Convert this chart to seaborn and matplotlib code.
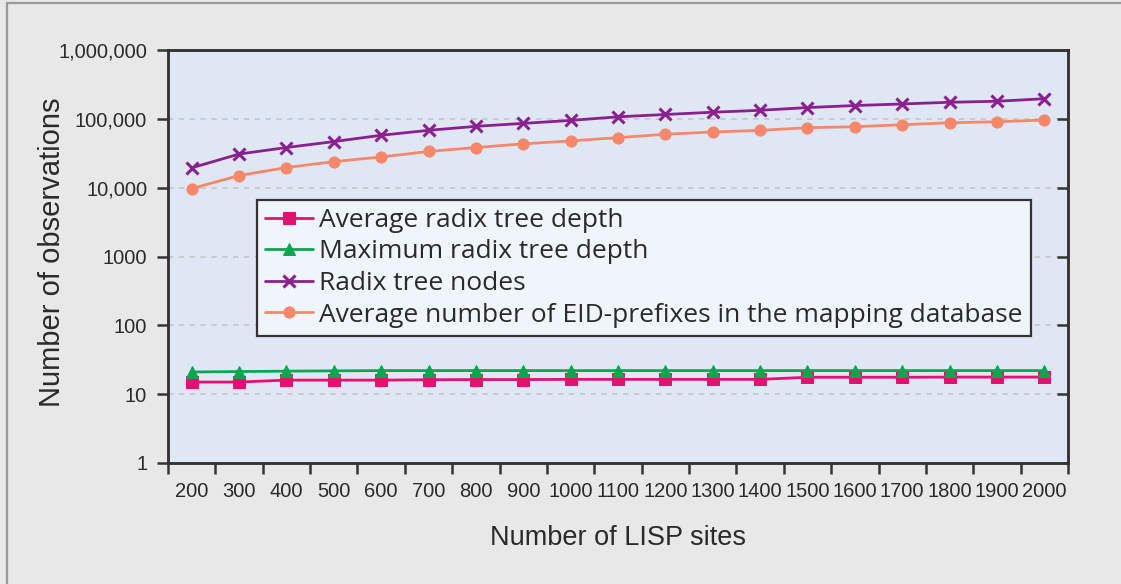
import matplotlib
matplotlib.use("Agg")
import matplotlib.pyplot as plt
from matplotlib import font_manager
from matplotlib.patches import Rectangle
from matplotlib.ticker import FixedLocator, FixedFormatter, NullLocator, NullFormatter
import seaborn as sns
import numpy as np

# ---- data ----
sites = [200, 300, 400, 500, 600, 700, 800, 900, 1000, 1100,
         1200, 1300, 1400, 1500, 1600, 1700, 1800, 1900, 2000]
avg_depth = [15, 15, 16, 16, 16, 16.2, 16.3, 16.3, 16.4, 16.4,
             16.4, 16.4, 16.4, 17.6, 17.6, 17.6, 17.7, 17.7, 17.7]
max_depth = [21, 21.3, 21.6, 21.8, 22, 22, 22, 22, 22, 22,
             22, 22, 22, 22, 22, 22, 22, 22, 22]
radix_nodes = [19400, 30800, 38300, 46700, 57700, 68100, 77800, 85900, 94900, 107000,
               115600, 124800, 133000, 145800, 156000, 164500, 174000, 180000, 196000]
eid_prefixes = [9700, 15000, 19600, 23900, 27900, 33600, 38300, 43300, 47800, 53300,
                59700, 64400, 68000, 74300, 76800, 82000, 87700, 90600, 96000]
series_names = ["Average radix tree depth", "Maximum radix tree depth",
                "Radix tree nodes", "Average number of EID-prefixes in the mapping database"]
ytick_values = [1, 10, 100, 1000, 10000, 100000, 1000000]
ytick_labels = ["1", "10", "100", "1000", "10,000", "100,000", "1,000,000"]
xlabel = "Number of LISP sites"
ylabel = "Number of observations"

sns.set_theme(style="white")

available = {f.name for f in font_manager.fontManager.ttflist}
label_font = "Liberation Sans"
legend_font = "Open Sans" if "Open Sans" in available else "DejaVu Sans"
plt.rcParams["font.family"] = [label_font, "DejaVu Sans"]

fig = plt.figure(figsize=(11.21, 5.84), dpi=100, facecolor="#e8e8e8")
fig.patches.append(Rectangle((7 / 1121, -0.1), 2.0, 1.1 - 3 / 584,
                             transform=fig.transFigure, facecolor="none",
                             edgecolor="#9a9a9a", lw=1.6, zorder=0))
ax = fig.add_axes([168 / 1121, 1 - 463 / 584, 900 / 1121, 413 / 584])
ax.set_facecolor("#dfe7f5")

pos = np.arange(len(sites))
styles = [
    dict(color="#e5106f", marker="s", markersize=8, markeredgecolor="#e5106f"),
    dict(color="#0ba650", marker="^", markersize=8, markeredgecolor="#0ba650"),
    dict(color="#8a1f8e", marker="x", markersize=9, markeredgewidth=2.2,
         markeredgecolor="#8a1f8e"),
    dict(color="#f7876a", marker="o", markersize=8, markeredgecolor="#f7876a"),
]
for vals, name, st in zip([avg_depth, max_depth, radix_nodes, eid_prefixes], series_names, styles):
    sns.lineplot(x=pos, y=vals, ax=ax, label=name, linewidth=2, **st)

ax.set_yscale("log")
ax.set_ylim(1, 1000000)
ax.set_xlim(-0.5, len(sites) - 0.5)

ax.yaxis.set_major_locator(FixedLocator(ytick_values))
ax.yaxis.set_major_formatter(FixedFormatter(ytick_labels))
ax.yaxis.set_minor_locator(NullLocator())
ax.grid(False)
for v in ytick_values[1:-1]:
    ax.axhline(v, color="#c8c8c8", lw=1.3, ls=(0, (3, 3)), zorder=0.5)

ax.xaxis.set_major_locator(FixedLocator(np.arange(-0.5, len(sites), 1.0)))
ax.xaxis.set_major_formatter(NullFormatter())
ax.xaxis.set_minor_locator(FixedLocator(pos))
ax.xaxis.set_minor_formatter(FixedFormatter([str(s) for s in sites]))
ax.tick_params(axis="x", which="major", direction="out", length=8, width=1.8,
               color="#333333", bottom=True)
ax.tick_params(axis="x", which="minor", length=0, pad=14, labelsize=14.5,
               labelcolor="#2a2a2a", bottom=True)
ax.tick_params(axis="y", which="major", direction="out", length=8, width=1.8,
               color="#333333", left=True, labelsize=14.5, labelcolor="#2a2a2a", pad=7)

ax2 = ax.twinx()
ax2.set_yscale("log")
ax2.set_ylim(ax.get_ylim())
ax2.yaxis.set_major_locator(FixedLocator(ytick_values[1:-1]))
ax2.yaxis.set_minor_locator(NullLocator())
ax2.yaxis.set_major_formatter(NullFormatter())
ax2.tick_params(axis="y", direction="in", length=8, width=1.8, color="#333333", right=True)
ax2.grid(False)

for a in (ax, ax2):
    for sp in a.spines.values():
        sp.set_visible(True)
        sp.set_color("#333333")
        sp.set_linewidth(1.8)

ax.set_xlabel(xlabel, fontsize=19.5, color="#2a2a2a")
ax.set_ylabel(ylabel, fontsize=21, color="#2a2a2a")
ax.xaxis.set_label_coords(0.5, -0.15)
ax.yaxis.set_label_coords(-0.113, 0.51)

leg = ax.legend(loc="upper left", bbox_to_anchor=(0.099, 0.637), borderaxespad=0,
                prop={"family": legend_font, "size": 19}, handlelength=1.8,
                handletextpad=0.25, labelspacing=0.25, borderpad=0.3,
                fancybox=False, framealpha=1, facecolor="#f0f4fb",
                edgecolor="#333333")
leg.get_frame().set_linewidth(1.6)
for t in leg.get_texts():
    t.set_color("#2a2a2a")

fig.savefig("out.png", dpi=100, facecolor=fig.get_facecolor())
